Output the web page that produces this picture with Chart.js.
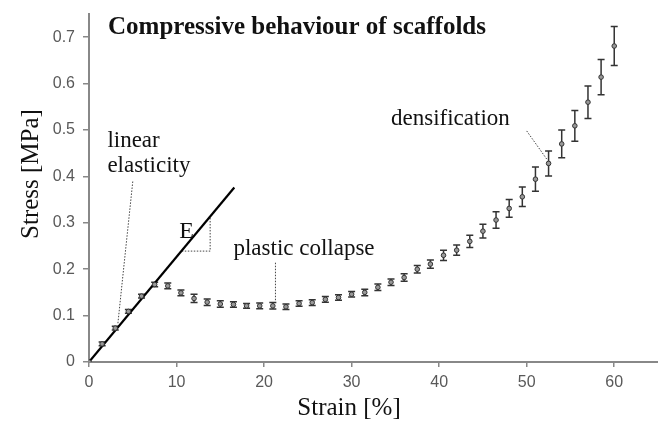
<!DOCTYPE html>
<html>
<head>
<meta charset="utf-8">
<title>Compressive behaviour of scaffolds</title>
<script src="https://cdn.jsdelivr.net/npm/chart.js@4.4.0/dist/chart.umd.min.js"></script>
<style>
  html, body { margin: 0; padding: 0; background: #fff; }
  #wrap { width: 658px; height: 421px; position: relative; }
</style>
</head>
<body>
<div id="wrap"><canvas id="stressChart"></canvas></div>
<script>
// measured points (strain %, stress MPa, +/- error)
const strain = [0, 1.5, 3, 4.5, 6, 7.5, 9, 10.5, 12, 13.5, 15, 16.5, 18, 19.5, 21, 22.5, 24, 25.5, 27, 28.5,
                30, 31.5, 33, 34.5, 36, 37.5, 39, 40.5, 42, 43.5, 45, 46.5, 48, 49.5, 51, 52.5, 54, 55.5, 57, 58.5, 60];
const stress = [0, 0.039, 0.073, 0.109, 0.142, 0.167, 0.164, 0.149, 0.137, 0.129, 0.125, 0.124, 0.121, 0.121, 0.121, 0.119,
                0.126, 0.128, 0.135, 0.139, 0.146, 0.150, 0.161, 0.172, 0.182, 0.200, 0.211, 0.230, 0.241, 0.260,
                0.282, 0.306, 0.331, 0.356, 0.394, 0.428, 0.470, 0.509, 0.560, 0.614, 0.681];
const stressErr = [0, 0.004, 0.004, 0.004, 0.004, 0.005, 0.006, 0.006, 0.009, 0.007, 0.007, 0.006, 0.005, 0.006, 0.007, 0.006,
                   0.006, 0.006, 0.006, 0.006, 0.006, 0.007, 0.007, 0.007, 0.008, 0.008, 0.009, 0.011, 0.011, 0.013,
                   0.015, 0.018, 0.019, 0.021, 0.026, 0.027, 0.030, 0.033, 0.035, 0.038, 0.042];

// linear elastic fit line
const elasticX = [0, 16.6];
const elasticY = [0, 0.376];

// slope triangle "E"
const triX = [10.6, 13.84, 13.84];
const triY = [0.239, 0.239, 0.313];

// leader lines from the labels
const linearLeadX = [5.0, 3.3];
const linearLeadY = [0.389, 0.083];
const plasticLeadX = [21.3, 21.3];
const plasticLeadY = [0.214, 0.130];
const densLeadX = [50.0, 52.3];
const densLeadY = [0.498, 0.437];

const xTicks = [0, 10, 20, 30, 40, 50, 60];
const yTicks = [0, 0.1, 0.2, 0.3, 0.4, 0.5, 0.6, 0.7];

const toPoints = (xs, ys) => xs.map((x, i) => ({ x: x, y: ys[i] }));

const leaderStyle = {
    showLine: true,
    borderColor: '#444',
    borderWidth: 1,
    borderDash: [1.5, 1.5],
    pointRadius: 0,
    fill: false
};

// error bars + text annotations
const annotations = {
    id: 'annotations',
    beforeDatasetsDraw(chart) {
        const ctx = chart.ctx;
        const xs = chart.scales.x, ys = chart.scales.y;
        ctx.save();
        ctx.strokeStyle = '#333';
        ctx.lineWidth = 1.5;
        for (let i = 0; i < strain.length; i++) {
            if (!stressErr[i]) continue;
            const px = xs.getPixelForValue(strain[i]);
            const top = ys.getPixelForValue(stress[i] + stressErr[i]);
            const bot = ys.getPixelForValue(stress[i] - stressErr[i]);
            ctx.beginPath();
            ctx.moveTo(px, top); ctx.lineTo(px, bot);
            ctx.moveTo(px - 3.5, top); ctx.lineTo(px + 3.5, top);
            ctx.moveTo(px - 3.5, bot); ctx.lineTo(px + 3.5, bot);
            ctx.stroke();
        }
        ctx.restore();
    },
    afterDraw(chart) {
        const ctx = chart.ctx;
        const xs = chart.scales.x, ys = chart.scales.y;
        const at = (x, y) => [xs.getPixelForValue(x), ys.getPixelForValue(y)];
        ctx.save();
        ctx.fillStyle = '#111';
        ctx.textBaseline = 'alphabetic';
        ctx.textAlign = 'left';

        ctx.font = 'bold 25px "Liberation Serif", "Times New Roman", serif';
        ctx.fillText('Compressive behaviour of scaffolds', 108, 34);

        ctx.font = '23px "Liberation Serif", "Times New Roman", serif';
        let p = at(2.1, 0.463); ctx.fillText('linear', p[0], p[1]);
        p = at(2.1, 0.409); ctx.fillText('elasticity', p[0], p[1]);
        p = at(16.5, 0.231); ctx.fillText('plastic collapse', p[0], p[1]);
        p = at(34.5, 0.511); ctx.fillText('densification', p[0], p[1]);
        ctx.font = '24px "Liberation Serif", "Times New Roman", serif';
        p = at(10.3, 0.267); ctx.fillText('E', p[0], p[1]);

        // axis titles
        ctx.font = '25px "Liberation Serif", "Times New Roman", serif';
        ctx.textAlign = 'center';
        ctx.fillText('Strain [%]', 349, 415);
        ctx.translate(38, 174);
        ctx.rotate(-Math.PI / 2);
        ctx.fillText('Stress [MPa]', 0, 0);
        ctx.restore();
    }
};

const ctx = document.getElementById('stressChart').getContext('2d');
new Chart(ctx, {
    type: 'scatter',
    data: {
        datasets: [{
            label: 'Stress',
            data: toPoints(strain, stress),
            showLine: false,
            pointRadius: 2.3,
            pointBorderWidth: 1,
            pointBorderColor: '#333',
            pointBackgroundColor: '#999'
        }, {
            label: 'Linear elasticity',
            data: toPoints(elasticX, elasticY),
            showLine: true,
            borderColor: '#000',
            borderWidth: 2.2,
            pointRadius: 0
        },
        Object.assign({ label: 'E', data: toPoints(triX, triY) }, leaderStyle),
        Object.assign({ label: 'linear lead', data: toPoints(linearLeadX, linearLeadY) }, leaderStyle),
        Object.assign({ label: 'plastic lead', data: toPoints(plasticLeadX, plasticLeadY) }, leaderStyle),
        Object.assign({ label: 'dens lead', data: toPoints(densLeadX, densLeadY) }, leaderStyle)]
    },
    options: {
        responsive: true,
        maintainAspectRatio: false,
        animation: false,
        layout: { autoPadding: false, padding: { top: 14, right: 0, left: 0, bottom: 0 } },
        plugins: {
            legend: { display: false },
            tooltip: { enabled: false }
        },
        scales: {
            x: {
                type: 'linear',
                min: 0,
                max: 65,
                afterBuildTicks: s => { s.ticks = xTicks.map(v => ({ value: v })); },
                afterFit: s => { s.height = 59; s.paddingLeft = 0; s.paddingRight = 0; },
                grid: { drawOnChartArea: false, drawTicks: true, tickLength: 5, color: '#888', lineWidth: 1.5 },
                border: { color: '#888', width: 2 },
                ticks: {
                    padding: 6,
                    color: '#595959',
                    font: { family: '"Liberation Sans", Arial, sans-serif', size: 16 }
                }
            },
            y: {
                type: 'linear',
                min: 0,
                max: 0.75,
                afterBuildTicks: s => { s.ticks = yTicks.map(v => ({ value: v })); },
                afterFit: s => { s.width = 89; s.paddingTop = 0; s.paddingBottom = 0; },
                grid: { drawOnChartArea: false, drawTicks: true, tickLength: 6, color: '#888', lineWidth: 1.5 },
                border: { color: '#888', width: 2 },
                ticks: {
                    padding: 8,
                    color: '#595959',
                    font: { family: '"Liberation Sans", Arial, sans-serif', size: 16 },
                    callback: v => v === 0 ? '0' : v.toFixed(1)
                }
            }
        }
    },
    plugins: [annotations]
});
</script>
</body>
</html>
